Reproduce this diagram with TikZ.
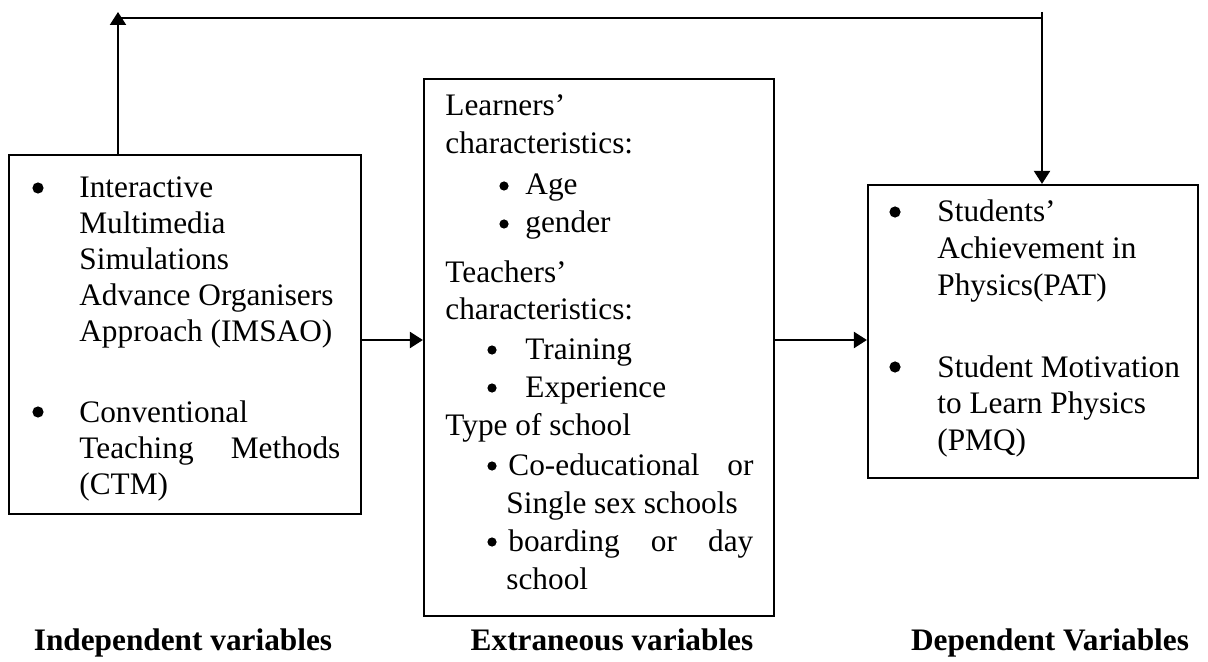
\documentclass[tikz,border=0pt]{standalone}
\usepackage{fontspec}
\setmainfont{Liberation Serif}
\usetikzlibrary{arrows.meta,fit,calc}
\begin{document}
\begin{tikzpicture}[x=0.5pt,y=-0.5pt,
  font=\fontsize{15.65pt}{18pt}\selectfont,
  frame/.style={draw, line width=1.1pt, inner sep=0pt},
  arr/.style={line width=1.1pt, -{Triangle[length=6.5pt,width=8pt]}},
  link/.style={line width=1.1pt},
  txt/.style={anchor=base west, inner sep=0pt},
  bigdot/.style={circle, fill, inner sep=0pt, minimum size=5.6pt},
  smalldot/.style={circle, fill, inner sep=0pt, minimum size=4.6pt},
  lab/.style={anchor=base, inner sep=0pt, font=\fontsize{15.65pt}{18pt}\selectfont\bfseries}]
\useasboundingbox (0,0) rectangle (1208,662);

% box corners
\coordinate (iA) at (9,155);   \coordinate (iB) at (361,514);
\coordinate (eA) at (424,79);  \coordinate (eB) at (774,616);
\coordinate (dA) at (868,185); \coordinate (dB) at (1198,478);

\node[frame, fit=(iA)(iB)] (indep) {};
\node[frame, fit=(eA)(eB)] (extr) {};
\node[frame, fit=(dA)(dB)] (dep) {};

% independent variables
\node[bigdot] (ib1) at (38,188) {};
\node[txt] (i1) at (79,198) {Interactive};
\node[txt] (i2) at (79,234) {Multimedia};
\node[txt] (i3) at (79,270) {Simulations};
\node[txt] (i4) at (79,306) {Advance Organisers};
\node[txt] (i5) at (79,342) {Approach (IMSAO)};
\node[bigdot] (ib2) at (38,412) {};
\node[txt] (i6) at (79,422) {Conventional};
\node[txt] (i7) at (79,458) {\hbox to 130.5pt{Teaching\hfill Methods}};
\node[txt] (i8) at (79,494) {(CTM)};

% extraneous variables
\node[txt] (e1) at (445,116) {Learners’};
\node[txt] (e2) at (445,154) {characteristics:};
\node[smalldot] (eb1) at (504,186) {};
\node[txt] (e3) at (525,195) {Age};
\node[smalldot] (eb2) at (504,224) {};
\node[txt] (e4) at (525,233) {gender};
\node[txt] (e5) at (445,283) {Teachers’};
\node[txt] (e6) at (445,320) {characteristics:};
\node[smalldot] (eb3) at (492,350) {};
\node[txt] (e7) at (525,359) {Training};
\node[smalldot] (eb4) at (492,388) {};
\node[txt] (e8) at (525,397) {Experience};
\node[txt] (e9) at (445,435) {Type of school};
\node[smalldot] (eb5) at (492,466) {};
\node[txt] (e10) at (508,475) {\hbox to 122.5pt{Co-educational\hfill or}};
\node[txt] (e11) at (506,513) {Single sex schools};
\node[smalldot] (eb6) at (492,542) {};
\node[txt] (e12) at (508,551) {\hbox to 122.5pt{boarding\hfill or\hfill day}};
\node[txt] (e13) at (506,589) {school};

% dependent variables
\node[bigdot] (db1) at (895,212) {};
\node[txt] (d1) at (937,222) {Students’};
\node[txt] (d2) at (937,259) {Achievement in};
\node[txt] (d3) at (937,296) {Physics(PAT)};
\node[bigdot] (db2) at (895,367) {};
\node[txt] (d4) at (937,377) {Student Motivation};
\node[txt] (d5) at (937,413) {to Learn Physics};
\node[txt] (d6) at (937,450) {(PMQ)};

% captions
\node[lab] (li) at (183,650) {Independent variables};
\node[lab] (le) at (612,650) {Extraneous variables};
\node[lab] (ld) at (1050,650) {Dependent Variables};

% forward arrows
\draw[arr] (indep.east |- 0,340) -- (extr.west |- 0,340);
\draw[arr] (extr.east |- 0,340) -- (dep.west |- 0,340);

% feedback loop
\coordinate (fbL) at (118,18);
\coordinate (fbR) at (1042,18);
\draw[arr] (indep.north -| fbL) -- ($(fbL)+(0,-6)$);
\draw[link] (fbL) -- (fbR);
\draw[arr] ($(fbR)+(0,-6)$) -- (dep.north -| fbR);
\end{tikzpicture}
\end{document}
